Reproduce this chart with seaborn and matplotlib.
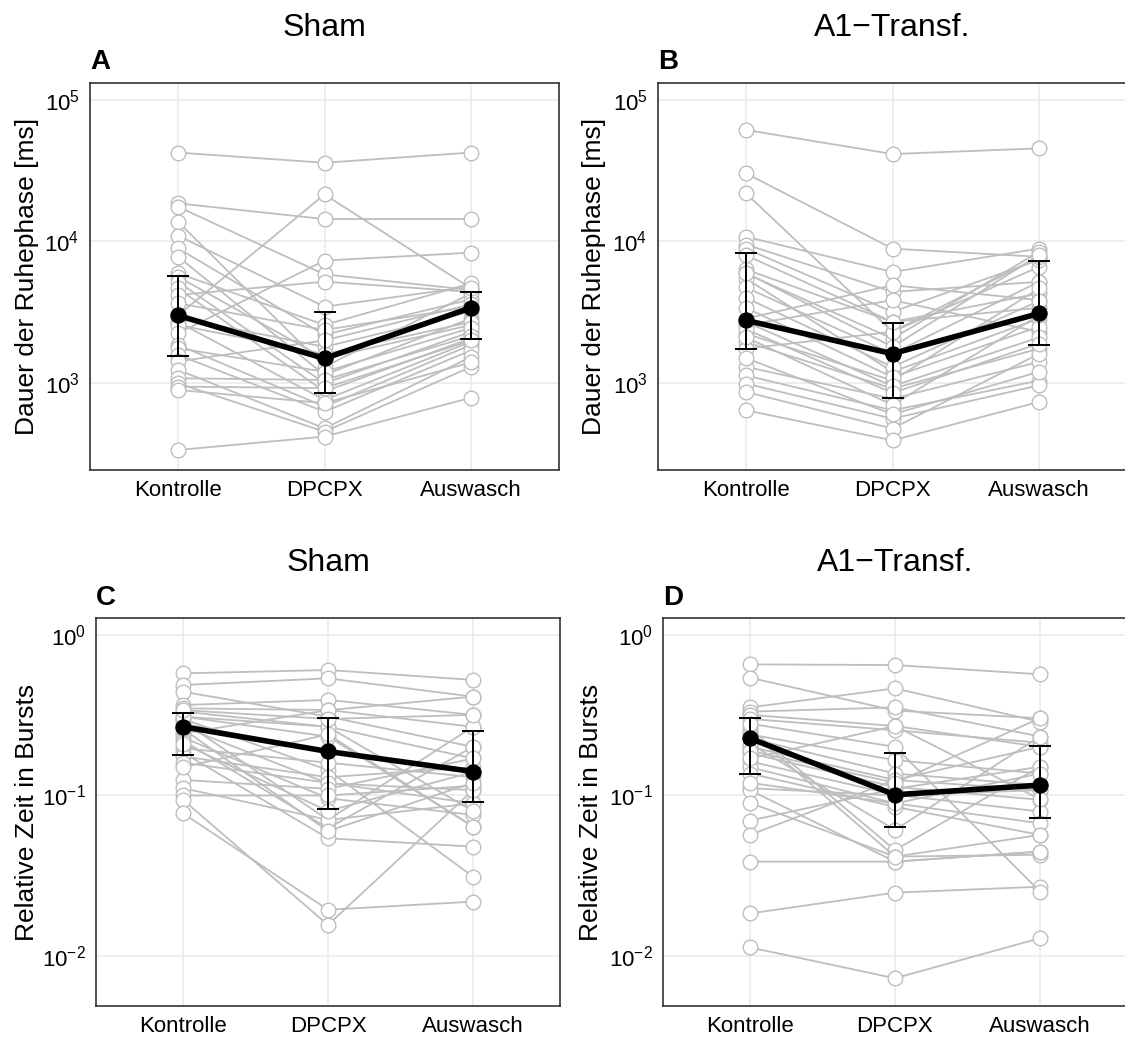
import numpy as np
import pandas as pd
import matplotlib
matplotlib.use('Agg')
import matplotlib.pyplot as plt
import matplotlib.ticker as mticker
import seaborn as sns

conditions = ['Kontrolle', 'DPCPX', 'Auswasch']

# Panel A: Sham, Dauer der Ruhephase [ms]
sham_ruhe_ktr = [42500, 18600, 17600, 13800, 11000, 8950, 7820, 5960, 5640, 5200,
                 4660, 4190, 3660, 3000, 2900, 2700, 2570, 2240, 1860, 1760,
                 1580, 1420, 1240, 1080, 995, 943, 893, 336]
sham_ruhe_dpc = [36000, 14400, 5860, 1300, 3460, 2190, 1140, 2570, 1490, 995,
                 870, 5200, 2370, 21500, 1800, 759, 1600, 7330, 681, 1200,
                 627, 2000, 478, 1050, 453, 920, 720, 418]
sham_ruhe_aus = [42500, 14400, 4540, 4300, 4800, 3900, 2860, 5060, 2570, 2300,
                 2070, 4400, 3460, 4660, 3200, 1960, 2700, 8340, 1860, 2450,
                 1700, 3600, 1530, 2150, 1300, 2000, 1400, 787]
sham_ruhe_mid = [3000, 1490, 3400]
sham_ruhe_lo = [1560, 855, 2050]
sham_ruhe_hi = [5700, 3190, 4420]

# Panel B: A1-Transf., Dauer der Ruhephase [ms]
a1_ruhe_ktr = [61400, 30300, 21900, 10800, 9520, 8900, 6340, 5940, 5470, 4730,
               2850, 2560, 2230, 1950, 1750, 1300, 1130, 990, 864, 641,
               8000, 6000, 4000, 3400, 2700, 2400, 2100, 1500]
a1_ruhe_dpc = [41500, 8900, 2300, 6090, 4400, 3180, 2700, 2060, 1200, 1610,
               4910, 3850, 1040, 912, 2300, 774, 641, 560, 476, 393,
               2700, 1800, 1300, 1100, 950, 850, 700, 600]
a1_ruhe_aus = [45500, 7790, 6620, 8900, 5190, 7400, 4290, 8450, 2850, 5190,
               3850, 2300, 4660, 1750, 7790, 1410, 1040, 962, 1610, 735,
               3400, 8000, 3800, 2500, 2100, 1900, 3000, 1200]
a1_ruhe_mid = [2770, 1610, 3100]
a1_ruhe_lo = [1750, 783, 1870]
a1_ruhe_hi = [8320, 2660, 7300]

# Panel C: Sham, Relative Zeit in Bursts
sham_burst_ktr = [0.577, 0.488, 0.443, 0.366, 0.349, 0.333, 0.310, 0.300, 0.290, 0.280,
                  0.268, 0.244, 0.230, 0.220, 0.197, 0.185, 0.175, 0.160, 0.125, 0.111,
                  0.100, 0.094, 0.0774, 0.310, 0.340, 0.260, 0.210, 0.150]
sham_burst_dpc = [0.605, 0.537, 0.310, 0.394, 0.341, 0.268, 0.233, 0.144, 0.0704, 0.188,
                  0.119, 0.340, 0.096, 0.0624, 0.160, 0.0541, 0.130, 0.120, 0.110, 0.0704,
                  0.100, 0.0156, 0.0194, 0.268, 0.300, 0.0600, 0.0800, 0.240]
sham_burst_aus = [0.525, 0.413, 0.201, 0.318, 0.268, 0.170, 0.064, 0.0312, 0.0893, 0.141,
                  0.108, 0.413, 0.0756, 0.201, 0.130, 0.048, 0.150, 0.0893, 0.170, 0.268,
                  0.115, 0.108, 0.0218, 0.0800, 0.318, 0.120, 0.140, 0.0640]
sham_burst_mid = [0.268, 0.188, 0.141]
sham_burst_lo = [0.180, 0.082, 0.0916]
sham_burst_hi = [0.328, 0.303, 0.254]

# Panel D: A1-Transf., Relative Zeit in Bursts
a1_burst_ktr = [0.656, 0.542, 0.354, 0.333, 0.318, 0.300, 0.262, 0.250, 0.240, 0.227,
                0.201, 0.183, 0.163, 0.150, 0.137, 0.111, 0.108, 0.0697, 0.0568, 0.0387,
                0.0184, 0.0113, 0.280, 0.210, 0.190, 0.120, 0.0900, 0.170]
a1_burst_dpc = [0.650, 0.338, 0.465, 0.354, 0.271, 0.255, 0.0457, 0.0416, 0.166, 0.137,
                0.125, 0.113, 0.101, 0.0893, 0.085, 0.100, 0.0387, 0.110, 0.125, 0.0387,
                0.0248, 0.00726, 0.201, 0.061, 0.120, 0.0893, 0.0416, 0.271]
a1_burst_aus = [0.569, 0.303, 0.288, 0.233, 0.201, 0.213, 0.151, 0.0427, 0.137, 0.116,
                0.108, 0.094, 0.0794, 0.0671, 0.0568, 0.108, 0.0447, 0.151, 0.201, 0.0447,
                0.027, 0.0129, 0.0252, 0.233, 0.303, 0.137, 0.0568, 0.0947]
a1_burst_mid = [0.227, 0.101, 0.116]
a1_burst_lo = [0.137, 0.064, 0.0724]
a1_burst_hi = [0.305, 0.183, 0.203]


def long_table(ktr, dpc, aus):
    n = len(ktr)
    return pd.DataFrame({
        'subj': np.tile(np.arange(n), 3),
        'cond': np.repeat(conditions, n),
        'val': np.concatenate([ktr, dpc, aus]),
    })


def draw_panel(ax, ktr, dpc, aus, mid, lo, hi, ylim, ylabel, label_x):
    df = long_table(ktr, dpc, aus)
    sns.lineplot(data=df, x='cond', y='val', units='subj', estimator=None,
                 sort=False, color='#BEBEBE', lw=1.3, marker='o', markersize=10.5,
                 markerfacecolor='white', markeredgecolor='#BEBEBE',
                 markeredgewidth=1.0, ax=ax, zorder=2)
    summ = pd.DataFrame({'cond': conditions, 'mid': mid})
    mid = np.array(mid)
    ax.errorbar(np.arange(3), mid, yerr=[mid - np.array(lo), np.array(hi) - mid],
                fmt='none', ecolor='black', elinewidth=1.4, capsize=8, capthick=1.4,
                zorder=3)
    sns.lineplot(data=summ, x='cond', y='mid', sort=False, color='black', lw=4,
                 marker='o', markersize=11, markerfacecolor='black',
                 markeredgecolor='black', ax=ax, zorder=4)
    ax.set_yscale('log')
    ax.set_ylim(*ylim)
    ax.set_xlim(-0.6, 2.6)
    ax.yaxis.set_major_locator(mticker.LogLocator(base=10, numticks=10))
    ax.yaxis.set_major_formatter(mticker.LogFormatterMathtext())
    ax.yaxis.set_minor_locator(mticker.NullLocator())
    ax.set_xlabel('')
    ax.set_ylabel(ylabel, fontsize=19, color='black')
    ax.yaxis.set_label_coords(label_x, 0.5)
    ax.grid(True, color='#EBEBEB', lw=1.2)
    ax.set_axisbelow(True)
    for sp in ax.spines.values():
        sp.set_color('#333333')
        sp.set_linewidth(1.2)
    ax.tick_params(axis='both', colors='#333333', length=4, width=1.1,
                   labelsize=16, labelcolor='black')


sns.set_style('white')
plt.rcParams['font.family'] = ['Liberation Sans', 'DejaVu Sans']
plt.rcParams['text.color'] = 'black'
plt.rcParams['mathtext.fontset'] = 'custom'
plt.rcParams['mathtext.rm'] = 'Liberation Sans'
plt.rcParams['mathtext.it'] = 'Liberation Sans:italic'
plt.rcParams['mathtext.bf'] = 'Liberation Sans:bold'

W, H = 1125, 1039
fig = plt.figure(figsize=(W / 100, H / 100), dpi=100)


def box(l, t, r, b):
    return [l / W, 1 - b / H, (r - l) / W, (b - t) / H]


axA = fig.add_axes(box(90, 83, 559, 470))
axB = fig.add_axes(box(658, 83, 1127, 470))
axC = fig.add_axes(box(96, 618, 560, 1006))
axD = fig.add_axes(box(663, 618, 1127, 1006))

ruhe_lim = (10 ** 2.385, 10 ** 5.12)
burst_lim = (10 ** -2.312, 10 ** 0.106)
draw_panel(axA, sham_ruhe_ktr, sham_ruhe_dpc, sham_ruhe_aus,
           sham_ruhe_mid, sham_ruhe_lo, sham_ruhe_hi, ruhe_lim,
           'Dauer der Ruhephase [ms]', -0.108)
draw_panel(axB, a1_ruhe_ktr, a1_ruhe_dpc, a1_ruhe_aus,
           a1_ruhe_mid, a1_ruhe_lo, a1_ruhe_hi, ruhe_lim,
           'Dauer der Ruhephase [ms]', -0.11)
draw_panel(axC, sham_burst_ktr, sham_burst_dpc, sham_burst_aus,
           sham_burst_mid, sham_burst_lo, sham_burst_hi, burst_lim,
           'Relative Zeit in Bursts', -0.122)
draw_panel(axD, a1_burst_ktr, a1_burst_dpc, a1_burst_aus,
           a1_burst_mid, a1_burst_lo, a1_burst_hi, burst_lim,
           'Relative Zeit in Bursts', -0.13)

# titles and panel letters
for ax, title, letter, ty, ly in [(axA, 'Sham', 'A', 28, 62), (axB, 'A1\u2212Transf.', 'B', 28, 62),
                                  (axC, 'Sham', 'C', 563, 598), (axD, 'A1\u2212Transf.', 'D', 563, 598)]:
    pos = ax.get_position()
    fig.text(pos.x0 + pos.width / 2, 1 - ty / H, title, ha='center', va='center',
             fontsize=23, color='black')
    fig.text(pos.x0, 1 - ly / H, letter, ha='left', va='center', fontsize=20,
             fontweight='bold', color='black')

fig.savefig('out.png', dpi=100)
